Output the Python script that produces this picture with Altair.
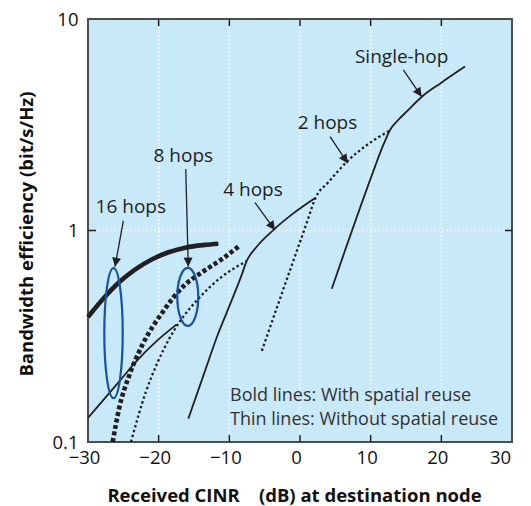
import math
import altair as alt
import pandas as pd

FONT = "Open Sans"
INK = "#231F20"
BLUE = "#1752A3"
BG = "#C8E9F8"
W, H = 424, 423

# ---------------- data ----------------
X_LABELS = [-30, -20, -10, 0, 10, 20, 30]
X_INNER = [-20, -10, 0, 10, 20]
Y_LABELS = [0.1, 1, 10]
Y_INNER = [1]

SINGLE_X = [4.5, 6.4, 8.5, 10.6, 11.6, 12.3, 12.7, 13.9, 15.3, 17.2, 20.0, 23.35]
SINGLE_Y = [0.53, 0.81, 1.28, 2.0, 2.45, 2.78, 2.97, 3.33, 3.71, 4.28, 5.0, 5.96]
TWO_X = [-5.4, -4.3, -3.3, -1.8, -0.3, 0.95, 2.2, 4.0, 6.6, 9.5, 12.7]
TWO_Y = [0.270, 0.344, 0.429, 0.596, 0.827, 1.086, 1.429, 1.69, 2.109, 2.541, 2.97]
FOUR_X = [-15.8, -13.5, -11.6, -10.4, -8.25, -7.55, -6.13, -3.78, -0.95, 2.2]
FOUR_Y = [0.129, 0.214, 0.324, 0.407, 0.617, 0.716, 0.838, 1.005, 1.205, 1.429]
EIGHT_THIN_X = [-23.92, -21.8, -20.1, -18.5, -16.5, -14.6, -11.3, -7.55]
EIGHT_THIN_Y = [0.1, 0.173, 0.240, 0.308, 0.392, 0.467, 0.596, 0.716]
SIXTEEN_THIN_X = [-30.0, -25.6, -23.2, -20.3, -17.45]
SIXTEEN_THIN_Y = [0.13, 0.193, 0.24, 0.30, 0.36]
EIGHT_BOLD_X = [-26.5, -25.6, -24.15, -22.3, -19.4, -16.5, -13.7, -11.1, -8.5]
EIGHT_BOLD_Y = [0.1, 0.144, 0.207, 0.288, 0.413, 0.545, 0.64, 0.73, 0.85]
SIXTEEN_BOLD_X = [-30.0, -27.6, -25.6, -23.35, -20.85, -18.6, -16.1, -13.5, -11.56]
SIXTEEN_BOLD_Y = [0.390, 0.486, 0.569, 0.653, 0.733, 0.789, 0.832, 0.855, 0.866]

ELLIPSE_X = [-26.39, -15.88]
ELLIPSE_Y = [0.327, 0.486]

ANNOT_TEXT = ["Single-hop", "2 hops", "4 hops", "8 hops", "16 hops"]
ANNOT_X = [14.39, 3.89, -6.65, -16.51, -23.94]
ANNOT_Y = [6.63, 3.22, 1.56, 2.26, 1.287]
ARROW_FROM_X = [14.62, 4.25, -6.37, -16.17, -25.0]
ARROW_FROM_Y = [5.74, 2.78, 1.354, 1.954, 1.11]
ARROW_TO_X = [17.22, 6.75, -3.54, -15.81, -26.18]
ARROW_TO_Y = [4.29, 2.08, 1.005, 0.674, 0.674]

LEGEND_TEXT = ["Bold lines: With spatial reuse", "Thin lines: Without spatial reuse"]
LEGEND_X = [-9.9, -9.9]
LEGEND_Y = [0.1646, 0.1277]

# ---------------- scales / axes ----------------
XS = alt.Scale(domain=[-30, 30], nice=False, zero=False)
YS = alt.Scale(type="log", domain=[0.1, 10], nice=False)

X_AXIS = alt.Axis(
    values=X_LABELS, ticks=False, tickSize=0, domain=False, grid=False,
    labelFont=FONT, labelFontSize=18.5, labelColor="#111111", labelPadding=6,
    labelFlush=False, labelOverlap=False,
    labelOffset={"condition": {"test": "datum.value == 30", "value": -12}, "value": -4},
    title="Received CINR\u00a0\u00a0\u00a0\u00a0(dB) at destination node",
    titleFont=FONT, titleFontSize=18.5, titleFontWeight="bold", titleColor="#111111",
    titleX=206, titleY=53, titleBaseline="middle", titleAlign="center",
)
Y_AXIS = alt.Axis(
    values=Y_LABELS, format="~g", ticks=False, tickSize=0, domain=False, grid=False,
    labelFont=FONT, labelFontSize=18.5, labelColor="#111111", labelPadding=10,
    labelFlush=False, labelOverlap=False,
    title="Bandwidth efficiency (bit/s/Hz)",
    titleFont=FONT, titleFontSize=18.5, titleFontWeight="bold", titleColor="#111111",
    titleX=-61.5, titleY=214.5, titleAngle=270, titleBaseline="middle", titleAlign="center",
)


def xq(f="x"):
    return alt.X(f"{f}:Q", scale=XS, axis=X_AXIS)


def yq(f="y"):
    return alt.Y(f"{f}:Q", scale=YS, axis=Y_AXIS)


layers = []

# grid
layers.append(alt.Chart(pd.DataFrame({"x": X_INNER})).mark_rule(
    color="white", strokeWidth=1.2, strokeDash=[2, 2]).encode(x=xq()))
layers.append(alt.Chart(pd.DataFrame({"y": Y_INNER})).mark_rule(
    color="white", strokeWidth=1.2, strokeDash=[2, 2]).encode(y=yq()))


def curve(xs, ys, width, dash=None):
    kw = dict(color=INK, strokeWidth=width, interpolate="monotone")
    if dash:
        kw["strokeDash"] = dash
    return alt.Chart(pd.DataFrame({"x": xs, "y": ys})).mark_line(**kw).encode(
        x=xq(), y=yq(), order=alt.Order("x:Q"))


THIN, THIN_DOT = 1.8, 2.3
BOLD = 4.6
DOT = [2.4, 2.6]
layers += [
    curve(SINGLE_X, SINGLE_Y, THIN),
    curve(TWO_X, TWO_Y, THIN_DOT, DOT),
    curve(FOUR_X, FOUR_Y, THIN),
    curve(EIGHT_THIN_X, EIGHT_THIN_Y, THIN_DOT, DOT),
    curve(SIXTEEN_THIN_X, SIXTEEN_THIN_Y, THIN),
    curve(EIGHT_BOLD_X, EIGHT_BOLD_Y, BOLD, [4, 2.6]),
    curve(SIXTEEN_BOLD_X, SIXTEEN_BOLD_Y, BOLD),
]


# ellipses (custom symbol paths; coordinates in -1..1 scaled by sqrt(size)/2)
def ellipse_path(a):
    k = 0.5523
    return (f"M {a} 0 C {a} {k} {a*k} 1 0 1 C {-a*k} 1 {-a} {k} {-a} 0 "
            f"C {-a} {-k} {-a*k} -1 0 -1 C {a*k} -1 {a} {-k} {a} 0 Z")


for i, (rx, ry) in enumerate([(9.2, 65.0), (10.5, 29.0)]):
    layers.append(alt.Chart(pd.DataFrame({"x": [ELLIPSE_X[i]], "y": [ELLIPSE_Y[i]]})).mark_point(
        shape=ellipse_path(rx / ry), size=(2 * ry) ** 2, filled=False,
        stroke=BLUE, strokeWidth=2.2, opacity=1).encode(x=xq(), y=yq()))


# arrows
def px(x):
    return (x + 30) / 60 * W


def py(y):
    return (1 - (math.log10(y) + 1) / 2) * H


angles = []
for fx, fy, tx, ty in zip(ARROW_FROM_X, ARROW_FROM_Y, ARROW_TO_X, ARROW_TO_Y):
    dx, dy = px(tx) - px(fx), py(ty) - py(fy)
    angles.append(math.degrees(math.atan2(-dx, dy)) % 360)

arrows = pd.DataFrame({"x": ARROW_FROM_X, "y": ARROW_FROM_Y,
                       "x2": ARROW_TO_X, "y2": ARROW_TO_Y, "angle": angles})
layers.append(alt.Chart(arrows).mark_rule(color=INK, strokeWidth=1.3).encode(
    x=xq(), y=yq(), x2=alt.X2("x2:Q"), y2=alt.Y2("y2:Q")))
layers.append(alt.Chart(arrows).mark_point(
    shape="M 0 0 L -0.5 -1 L 0.5 -1 Z", size=324, filled=True, color=INK,
    strokeWidth=0, opacity=1).encode(
    x=xq("x2"), y=yq("y2"), angle=alt.Angle("angle:Q", scale=None)))

# annotation labels
layers.append(alt.Chart(pd.DataFrame({"t": ANNOT_TEXT, "x": ANNOT_X, "y": ANNOT_Y})).mark_text(
    font=FONT, fontSize=19, color=INK, align="center", baseline="middle").encode(
    x=xq(), y=yq(), text="t:N"))
layers.append(alt.Chart(pd.DataFrame({"t": LEGEND_TEXT, "x": LEGEND_X, "y": LEGEND_Y})).mark_text(
    font=FONT, fontSize=18, color="#333333", align="left", baseline="middle").encode(
    x=xq(), y=yq(), text="t:N"))

# inward ticks
layers.append(alt.Chart(pd.DataFrame({"x": X_INNER, "y": [10] * len(X_INNER)})).mark_tick(
    orient="vertical", size=7, thickness=1.5, yOffset=3.5, color=INK, opacity=1).encode(x=xq(), y=yq()))
layers.append(alt.Chart(pd.DataFrame({"x": X_INNER, "y": [0.1] * len(X_INNER)})).mark_tick(
    orient="vertical", size=7, thickness=1.5, yOffset=-3.5, color=INK, opacity=1).encode(x=xq(), y=yq()))
layers.append(alt.Chart(pd.DataFrame({"x": [-30], "y": Y_INNER})).mark_tick(
    orient="horizontal", size=8, thickness=1.5, xOffset=4, color=INK, opacity=1).encode(x=xq(), y=yq()))
layers.append(alt.Chart(pd.DataFrame({"x": [30], "y": Y_INNER})).mark_tick(
    orient="horizontal", size=7, thickness=1.5, xOffset=-3.5, color=INK, opacity=1).encode(x=xq(), y=yq()))

chart = alt.layer(*layers).properties(
    width=W, height=H,
    padding={"left": 80, "top": 11, "right": 11, "bottom": 64},
    autosize=alt.AutoSizeParams(type="none"),
    background="white",
).configure_view(fill=BG, stroke="#4D4D4D", strokeWidth=2)

chart.save("out.html", embed_options={"renderer": "svg", "actions": False})
